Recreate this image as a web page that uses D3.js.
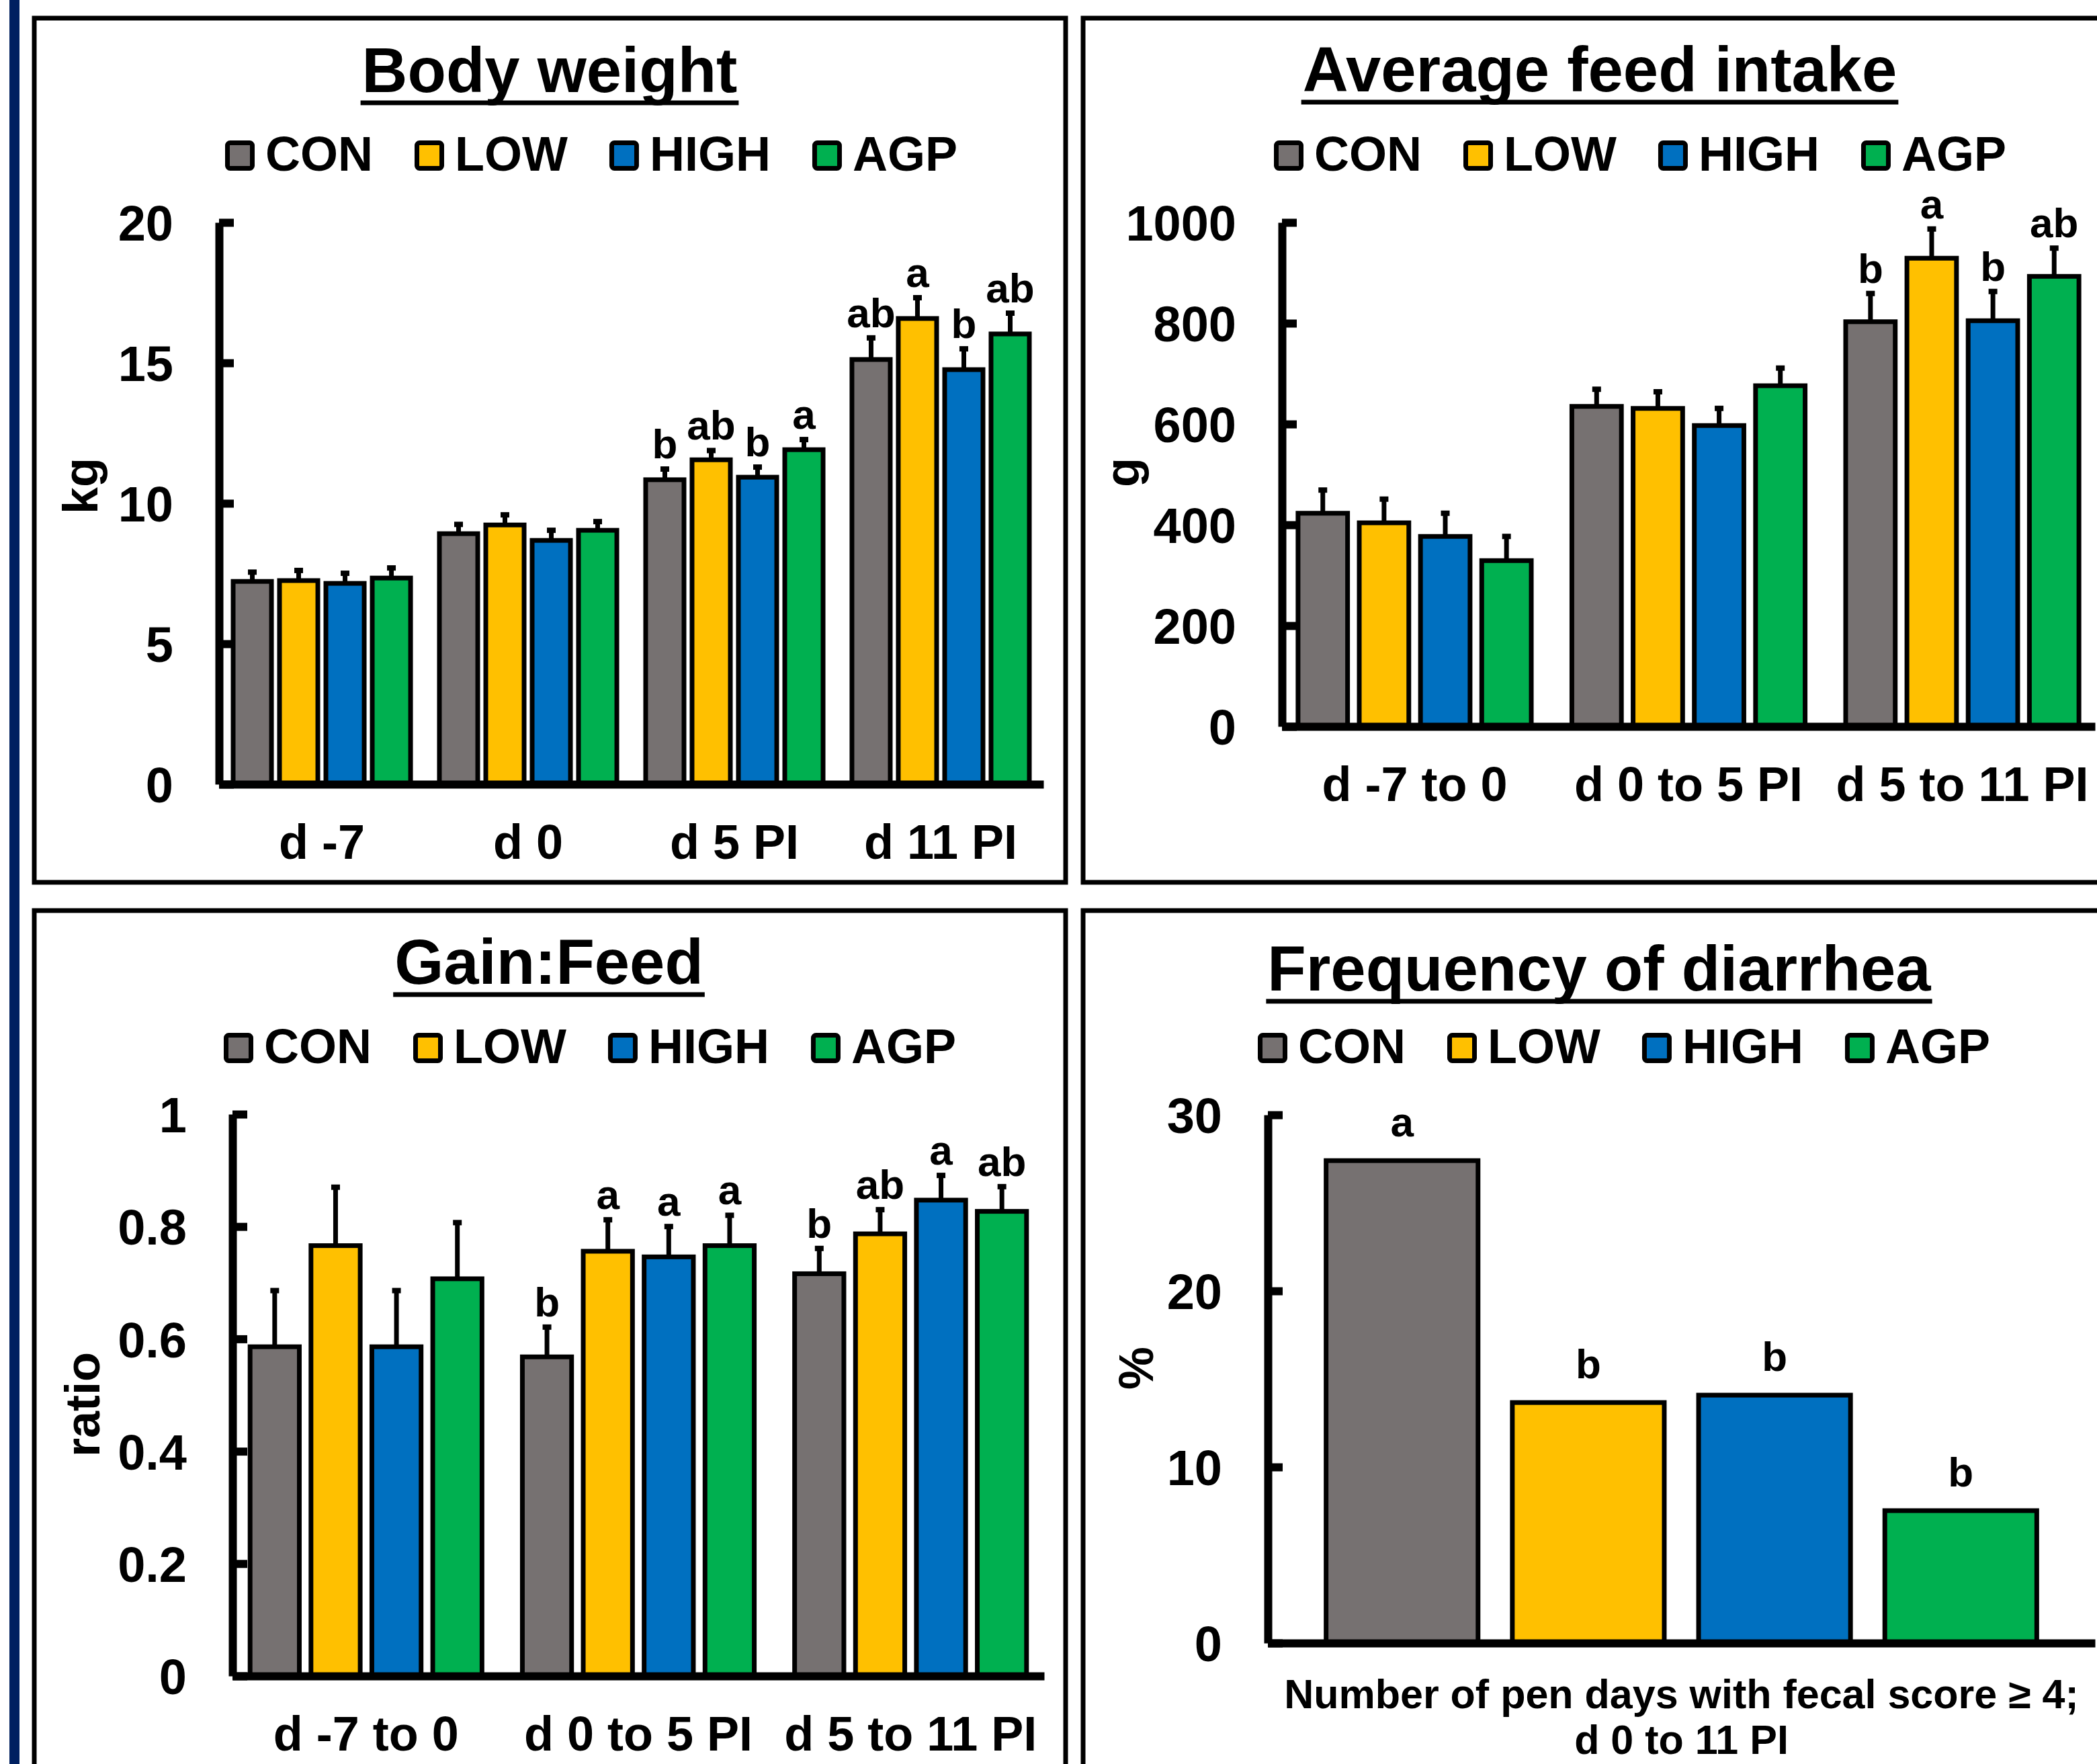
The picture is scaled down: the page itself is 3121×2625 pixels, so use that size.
<!DOCTYPE html>
<html>
  <head>
    <meta charset="utf-8" />
    <title>Body weight, feed intake, gain:feed, diarrhea</title>
    <script src="https://cdn.jsdelivr.net/npm/d3@7"></script>
    <style>
      body { margin: 0; background: #fff; }
      svg text { font-family: "Liberation Sans", Arial, sans-serif; font-weight: bold; fill: #000; }
    </style>
  </head>

  <body>
    <script>
      // Behandlinger og farver
      const treatments = ["CON", "LOW", "HIGH", "AGP"];
      const colors = ["#767171", "#FFC000", "#0070C0", "#00B050"];

      // Body weight (kg)
      const bwDays = ["d -7", "d 0", "d 5 PI", "d 11 PI"];
      const bwMean = [
        [7.22, 7.25, 7.15, 7.34],
        [8.92, 9.23, 8.68, 9.04],
        [10.84, 11.55, 10.93, 11.91],
        [15.12, 16.58, 14.76, 16.03],
      ];
      const bwSE = [
        [0.33, 0.36, 0.36, 0.36],
        [0.33, 0.36, 0.36, 0.31],
        [0.38, 0.33, 0.36, 0.36],
        [0.77, 0.74, 0.74, 0.74],
      ];
      const bwLetters = [
        ["", "", "", ""],
        ["", "", "", ""],
        ["b", "ab", "b", "a"],
        ["ab", "a", "b", "ab"],
      ];
      const bwTicks = [0, 5, 10, 15, 20];

      // Average feed intake (g) og Gain:Feed har samme perioder
      const periods = ["d -7 to 0", "d 0 to 5 PI", "d 5 to 11 PI"];
      const afiMean = [
        [423, 404, 377, 329],
        [635, 631, 597, 676],
        [803, 929, 805, 893],
      ];
      const afiSE = [
        [46, 47, 46, 48],
        [34, 33, 34, 35],
        [56, 58, 58, 56],
      ];
      const afiLetters = [
        ["", "", "", ""],
        ["", "", "", ""],
        ["b", "a", "b", "ab"],
      ];
      const afiTicks = [0, 200, 400, 600, 800, 1000];

      const gfMean = [
        [0.586, 0.766, 0.586, 0.707],
        [0.568, 0.756, 0.746, 0.766],
        [0.716, 0.787, 0.847, 0.827],
      ];
      const gfSE = [
        [0.1, 0.104, 0.1, 0.1],
        [0.053, 0.056, 0.054, 0.054],
        [0.045, 0.043, 0.044, 0.044],
      ];
      const gfLetters = [
        ["", "", "", ""],
        ["b", "a", "a", "a"],
        ["b", "ab", "a", "ab"],
      ];
      const gfTicks = [0, 0.2, 0.4, 0.6, 0.8, 1];
      const gfTickLabels = ["0", "0.2", "0.4", "0.6", "0.8", "1"];

      // Frequency of diarrhea (%)
      const diaValues = [27.4, 13.66, 14.08, 7.52];
      const diaLetters = ["a", "b", "b", "b"];
      const diaTicks = [0, 10, 20, 30];
      const diaLabel = ["Number of pen days with fecal score \u2265 4;", "d 0 to 11 PI"];

      const w = 3121;
      const h = 2625;

      const svg = d3
        .select("body")
        .append("svg")
        .attr("width", w)
        .attr("height", h);

      // Navy streg i venstre side
      svg.append("rect")
        .attr("x", 14).attr("y", 0)
        .attr("width", 15).attr("height", h)
        .attr("fill", "#002060");

      // Rammer om de fire paneler
      const frames = [
        [51, 27, 1535, 1286],
        [1612, 27, 1600, 1286],
        [51, 1355, 1535, 1400],
        [1612, 1355, 1600, 1400],
      ];
      svg.selectAll("rect.frame")
        .data(frames)
        .enter()
        .append("rect")
        .attr("class", "frame")
        .attr("x", d => d[0]).attr("y", d => d[1])
        .attr("width", d => d[2]).attr("height", d => d[3])
        .attr("fill", "none").attr("stroke", "#000").attr("stroke-width", 7);

      function title(cx, base, txt) {
        const t = svg.append("text")
          .attr("x", cx).attr("y", base)
          .attr("text-anchor", "middle")
          .attr("font-size", 94)
          .text(txt);
        const len = t.node().getComputedTextLength();
        svg.append("line")
          .attr("x1", cx - len / 2 - 2).attr("x2", cx + len / 2 + 2)
          .attr("y1", base + 16).attr("y2", base + 16)
          .attr("stroke", "#000").attr("stroke-width", 7);
      }

      function legend(x, base) {
        let cur = x;
        treatments.forEach(function (t, i) {
          svg.append("rect")
            .attr("x", cur + 3.5).attr("y", base - 45 + 3.5)
            .attr("width", 37).attr("height", 38)
            .attr("rx", 4)
            .attr("fill", colors[i]).attr("stroke", "#000").attr("stroke-width", 7);
          const txt = svg.append("text")
            .attr("x", cur + 60).attr("y", base)
            .attr("font-size", 72)
            .text(t);
          cur = cur + 60 + txt.node().getComputedTextLength() + 62;
        });
      }

      function yLabel(bx, cy, txt) {
        svg.append("text")
          .attr("transform", `translate(${bx},${cy}) rotate(-90)`)
          .attr("text-anchor", "middle")
          .attr("font-size", 72)
          .text(txt);
      }

      function yAxis(y, x, ticks, labels) {
        const ax = svg.append("g")
          .attr("transform", `translate(${x},0)`)
          .call(d3.axisLeft(y)
            .tickValues(ticks)
            .tickFormat((d, i) => labels[i])
            .tickSize(-22).tickSizeOuter(0).tickPadding(68));
        ax.select(".domain").attr("stroke", "#000").attr("stroke-width", 12);
        ax.selectAll(".tick line").attr("stroke", "#000").attr("stroke-width", 12);
        ax.selectAll(".tick text").attr("font-size", 74).attr("dy", "0.36em");
      }

      // Grupperet barchart med fejllinjer og bogstaver
      function grouped(p) {
        const x0 = d3.scaleBand().domain(p.groups).range(p.xr)
          .paddingInner(p.pI).paddingOuter(p.pO);
        const x1 = d3.scaleBand().domain(treatments).range([0, x0.bandwidth()])
          .paddingInner(p.pI1);
        const y = d3.scaleLinear().domain([0, p.max]).range(p.yr);

        const rows = [];
        p.groups.forEach(function (grp, i) {
          treatments.forEach(function (t, j) {
            rows.push({ grp: grp, t: t, j: j, m: p.mean[i][j], se: p.se[i][j], l: p.letters[i][j] });
          });
        });
        const cx = d => x0(d.grp) + x1(d.t) + x1.bandwidth() / 2;

        const g = svg.append("g");
        g.selectAll("rect")
          .data(rows)
          .enter()
          .append("rect")
          .attr("x", d => x0(d.grp) + x1(d.t) + 3.5)
          .attr("y", d => y(d.m))
          .attr("width", x1.bandwidth() - 7)
          .attr("height", d => y(0) - y(d.m))
          .attr("fill", d => colors[d.j])
          .attr("stroke", "#000").attr("stroke-width", 7);

        // Fejllinjer (kun opad)
        g.selectAll("line.err")
          .data(rows)
          .enter()
          .append("line")
          .attr("class", "err")
          .attr("x1", cx).attr("x2", cx)
          .attr("y1", d => y(d.m)).attr("y2", d => y(d.m + d.se))
          .attr("stroke", "#000").attr("stroke-width", 7);
        g.selectAll("rect.cap")
          .data(rows)
          .enter()
          .append("rect")
          .attr("class", "cap")
          .attr("x", d => cx(d) - 6.5).attr("y", d => y(d.m + d.se) - 4)
          .attr("width", 13).attr("height", 8)
          .attr("fill", "#000");

        g.selectAll("text.letter")
          .data(rows.filter(d => d.l !== ""))
          .enter()
          .append("text")
          .attr("class", "letter")
          .attr("x", cx)
          .attr("y", d => y(d.m + d.se) - 16)
          .attr("text-anchor", "middle")
          .attr("font-size", 62)
          .text(d => d.l);

        const xa = svg.append("g")
          .attr("transform", `translate(0,${y(0)})`)
          .call(d3.axisBottom(x0).tickSize(0).tickSizeOuter(0).tickPadding(60));
        xa.select(".domain").attr("stroke", "#000").attr("stroke-width", 12);
        xa.selectAll(".tick text").attr("font-size", 72);

        yAxis(y, p.xr[0], p.ticks, p.tickLabels);
      }

      // Panel 1: Body weight
      title(818, 137, "Body weight");
      legend(335, 254);
      grouped({
        groups: bwDays, mean: bwMean, se: bwSE, letters: bwLetters,
        xr: [326, 1553], yr: [1167, 331], max: 20,
        pI: 0.117, pO: 0.057, pI1: 0.072,
        ticks: bwTicks, tickLabels: bwTicks.map(String),
      });
      yLabel(145, 723, "kg");

      // Panel 2: Average feed intake
      title(2381, 136, "Average feed intake");
      legend(1896, 254);
      grouped({
        groups: periods, mean: afiMean, se: afiSE, letters: afiLetters,
        xr: [1908, 3118], yr: [1081, 331], max: 1000,
        pI: 0.131, pO: 0.05, pI1: 0.114,
        ticks: afiTicks, tickLabels: afiTicks.map(String),
      });
      yLabel(1695, 703, "g");

      // Panel 3: Gain:Feed
      title(817, 1464, "Gain:Feed");
      legend(333, 1582);
      grouped({
        groups: periods, mean: gfMean, se: gfSE, letters: gfLetters,
        xr: [346, 1554], yr: [2494, 1658], max: 1,
        pI: 0.131, pO: 0.056, pI1: 0.114,
        ticks: gfTicks, tickLabels: gfTickLabels,
      });
      yLabel(148, 2090, "ratio");

      // Panel 4: Frequency of diarrhea
      title(2380, 1474, "Frequency of diarrhea");
      legend(1872, 1582);

      const xd = d3.scaleBand().domain(treatments).range([1887, 3118])
        .paddingInner(0.159).paddingOuter(0.3);
      const yd = d3.scaleLinear().domain([0, 30]).range([2445, 1659]);

      svg.selectAll("rect.dia")
        .data(diaValues)
        .enter()
        .append("rect")
        .attr("class", "dia")
        .attr("x", (d, i) => xd(treatments[i]) + 3.5)
        .attr("y", d => yd(d))
        .attr("width", xd.bandwidth() - 7)
        .attr("height", d => yd(0) - yd(d))
        .attr("fill", (d, i) => colors[i])
        .attr("stroke", "#000").attr("stroke-width", 7);

      svg.selectAll("text.dialetter")
        .data(diaValues)
        .enter()
        .append("text")
        .attr("class", "dialetter")
        .attr("x", (d, i) => xd(treatments[i]) + xd.bandwidth() / 2)
        .attr("y", d => yd(d) - 36)
        .attr("text-anchor", "middle")
        .attr("font-size", 62)
        .text((d, i) => diaLetters[i]);

      const xda = svg.append("g")
        .attr("transform", `translate(0,${yd(0)})`)
        .call(d3.axisBottom(xd).tickValues([]).tickSizeOuter(0));
      xda.select(".domain").attr("stroke", "#000").attr("stroke-width", 12);

      yAxis(yd, 1887, diaTicks, diaTicks.map(String));
      yLabel(1716, 2036, "%");

      svg.selectAll("text.dialabel")
        .data(diaLabel)
        .enter()
        .append("text")
        .attr("class", "dialabel")
        .attr("x", (xd.range()[0] + xd.range()[1]) / 2)
        .attr("y", (d, i) => 2542 + i * 68)
        .attr("text-anchor", "middle")
        .attr("font-size", 61)
        .text(d => d);
    </script>
  </body>
</html>
